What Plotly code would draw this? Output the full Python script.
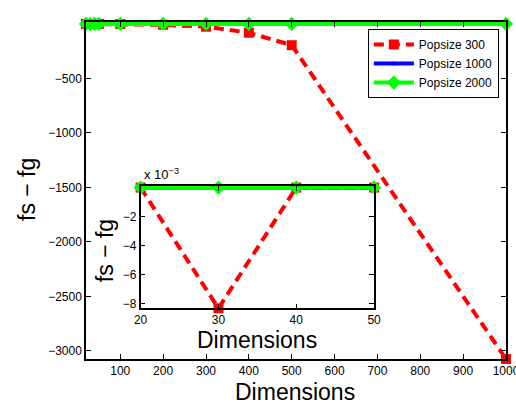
import plotly.graph_objects as go

# Problem dimensions and the resulting fs - fg gap for each population size
dims = [20, 30, 40, 50, 100, 200, 300, 400, 500, 1000]
pop300 = [0, -0.0083, 0, 0, -1, -8, -25, -80, -195, -3075]
pop1000 = [0, 0, 0, 0, 0, 0, 0, 0, 0, 0]
pop2000 = [0, 0, 0, 0, 0, 0, 0, 0, 0, 0]

# Zoomed view uses the small dimensions only
n_small = 4

x_ticks = [100, 200, 300, 400, 500, 600, 700, 800, 900, 1000]
y_ticks = [-500, -1000, -1500, -2000, -2500, -3000]
y_ticklabels = ["\u2212500", "\u22121000", "\u22121500", "\u22122000", "\u22122500", "\u22123000"]
inset_x_ticks = [20, 30, 40, 50]
inset_y_ticks = [-0.002, -0.004, -0.006, -0.008]
inset_y_ticklabels = ["\u22122", "\u22124", "\u22126", "\u22128"]

FONT = "Liberation Sans, Arial, Helvetica, sans-serif"
RED, BLUE, GREEN = "#ff0000", "#0000ff", "#00ff00"

series = [
    ("Popsize 300", pop300, dict(color=RED, width=4, dash="10px,6px"),
     dict(symbol="square", size=10, color=RED)),
    ("Popsize 1000", pop1000, dict(color=BLUE, width=4),
     dict(symbol="circle", size=4, color=BLUE)),
    ("Popsize 2000", pop2000, dict(color=GREEN, width=4),
     dict(symbol="diamond", size=11, color=GREEN)),
]

fig = go.Figure()
for name, vals, line, marker in series:
    fig.add_trace(go.Scatter(x=dims, y=vals, name=name, mode="lines+markers",
                             line=line, marker=marker, cliponaxis=False,
                             xaxis="x", yaxis="y"))
for name, vals, line, marker in series:
    fig.add_trace(go.Scatter(x=dims[:n_small], y=vals[:n_small], name=name,
                             mode="lines+markers", line=line, marker=marker,
                             cliponaxis=False, showlegend=False,
                             xaxis="x2", yaxis="y2"))

axis_common = dict(showline=True, linecolor="black", linewidth=1.5, mirror="ticks",
                   ticks="inside", ticklen=5, tickwidth=1, tickcolor="black",
                   showgrid=False, zeroline=False, automargin=False,
                   ticklabeloverflow="allow",
                   tickfont=dict(family=FONT, size=12, color="black"))

fig.update_layout(
    width=516, height=406,
    margin=dict(l=86, r=10, t=22, b=47, autoexpand=False),
    paper_bgcolor="white", plot_bgcolor="white",
    font=dict(family=FONT, color="black"),
    xaxis=dict(range=[20, 1000], tickvals=x_ticks, domain=[0, 1], **axis_common),
    yaxis=dict(range=[-3075, 18], tickvals=y_ticks, ticktext=y_ticklabels,
               domain=[0, 1], **axis_common),
    xaxis2=dict(range=[20, 50], tickvals=inset_x_ticks, domain=[0.130, 0.686],
                anchor="y2", **axis_common),
    yaxis2=dict(range=[-0.0083, 0.00011], tickvals=inset_y_ticks,
                ticktext=inset_y_ticklabels, domain=[0.1504, 0.5134],
                anchor="x2", **axis_common),
    legend=dict(x=0.983, y=0.979, xanchor="right", yanchor="top",
                bgcolor="white", bordercolor="black", borderwidth=1,
                font=dict(family=FONT, size=12, color="black"),
                tracegroupgap=0, itemwidth=40),
    showlegend=True,
)

title_font = dict(family=FONT, size=23, color="black")
fig.add_annotation(text="Dimensions", xref="paper", yref="paper", x=0.4976, y=-0.098,
                   xanchor="center", yanchor="middle", showarrow=False, font=title_font)
fig.add_annotation(text="fs \u2212 fg", xref="paper", yref="paper", x=-0.1393, y=0.503,
                   xanchor="center", yanchor="middle", textangle=-90, showarrow=False,
                   font=title_font)
fig.add_annotation(text="Dimensions", xref="paper", yref="paper", x=0.407, y=0.0564,
                   xanchor="center", yanchor="middle", showarrow=False, font=title_font)
fig.add_annotation(text="fs \u2212 fg", xref="paper", yref="paper", x=0.0452, y=0.323,
                   xanchor="center", yanchor="middle", textangle=-90, showarrow=False,
                   font=title_font)
fig.add_annotation(text="x 10<sup>\u22123</sup>", xref="paper", yref="paper",
                   x=0.1326, y=0.519, xanchor="left", yanchor="bottom", showarrow=False,
                   font=dict(family=FONT, size=13, color="black"))

fig.write_html("out.html")
